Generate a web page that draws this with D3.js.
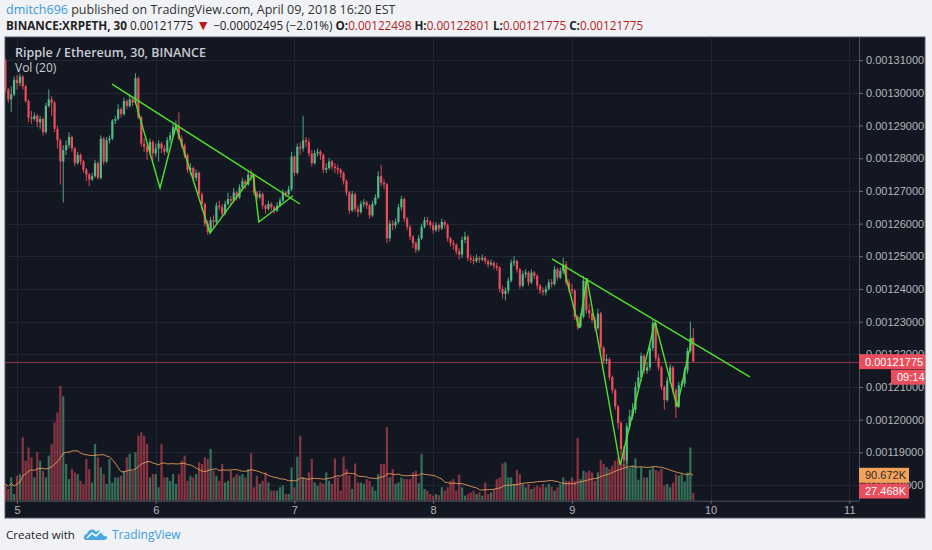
<!DOCTYPE html>
<html>
<head>
<meta charset="utf-8">
<script src="https://cdn.jsdelivr.net/npm/d3@7"></script>
<style>
  body { margin: 0; background: #f0f2f5; }
  svg { display: block; font-family: "Open Sans", sans-serif; }
</style>
</head>
<body>
<svg width="932" height="550"></svg>
<script>
// prices in units of 1e-5 ETH, volume in thousands
// every candle is [close, high, low, volume]; open = previous close
const FIRST_OPEN = 131.0;
const FIRST_BAR = -4; // bars counted from Apr 5 00:00, 30 min each

const beforeDay5 = [
  [130.10,131.05,130.00,60],[129.80,130.15,129.70,42],[129.95,130.20,129.42,83],[130.40,130.50,129.90,24]
];
const day5 = [
  [130.30,130.55,130.10,89],[130.50,130.60,130.20,95],[130.20,130.55,130.10,226],[129.75,130.25,129.70,143],
  [129.25,129.80,129.10,190],[129.20,129.45,129.05,155],[129.30,129.40,129.15,83],[129.10,129.35,128.95,173],
  [129.20,129.30,128.90,143],[128.80,129.25,128.70,107],[129.60,129.70,128.75,83],[129.80,130.10,129.55,161],
  [129.70,129.90,129.30,202],[128.90,129.75,128.80,280],[128.55,129.00,128.30,315],[127.90,128.60,127.20,410],
  [128.25,128.40,126.65,373],[128.40,128.55,128.10,131],[128.65,128.80,128.30,77],[128.30,128.70,128.20,113],
  [127.85,128.35,127.75,101],[128.10,128.20,127.80,95],[127.90,128.15,127.80,71],[127.65,127.95,127.55,60],
  [127.50,127.70,127.30,149],[127.35,127.55,127.15,113],[127.45,127.55,127.30,65],[127.85,127.95,127.40,202],
  [127.40,127.90,127.35,155],[128.60,128.70,127.35,119],[127.90,128.65,127.80,95],[128.55,128.65,127.85,60],
  [128.60,128.70,128.45,149],[129.15,129.20,128.55,65],[129.20,129.30,129.05,83],[129.50,129.65,129.15,83],
  [129.35,129.55,129.25,89],[129.75,129.85,129.30,107],[129.60,129.80,129.50,155],[129.80,129.95,129.55,167],
  [129.70,129.90,129.60,107],[130.45,130.60,129.65,173],[129.25,130.50,129.20,232],[128.45,129.30,128.35,244],
  [128.35,128.60,128.20,232],[128.20,128.45,127.95,202],[128.50,128.60,128.10,83],[128.15,128.55,127.90,95]
];
const day6 = [
  [128.30,128.45,128.05,95],[128.45,128.55,127.90,48],[128.30,128.50,128.15,202],[128.20,128.40,128.10,83],
  [128.55,128.65,128.15,83],[128.70,128.80,128.45,71],[128.95,129.05,128.65,95],[129.00,129.15,128.85,60],
  [128.60,129.40,128.55,95],[128.40,128.70,128.30,143],[128.10,128.45,128.00,161],[127.65,128.15,127.55,71],
  [127.70,127.85,127.50,89],[127.40,127.75,127.30,83],[127.55,127.65,127.30,95],[126.90,127.60,126.80,137],
  [126.60,126.95,126.40,131],[126.00,126.65,125.90,155],[125.75,126.10,125.65,149],[126.10,126.20,125.70,185],
  [126.05,126.25,125.85,107],[126.55,126.65,126.00,89],[126.50,126.70,126.40,71],[126.30,126.60,126.20,131],
  [126.60,126.70,126.25,65],[126.75,126.95,126.55,71],[126.70,126.85,126.55,107],[126.95,127.10,126.65,83],
  [126.80,127.00,126.70,95],[127.10,127.20,126.75,89],[127.30,127.40,127.00,95],[127.20,127.35,127.05,83],
  [127.50,127.60,127.15,113],[127.45,127.65,127.30,169],[126.95,127.50,126.85,48],[126.80,127.00,126.70,89],
  [126.90,127.00,126.75,60],[126.55,126.95,126.45,71],[126.45,126.60,126.30,101],[126.60,126.70,126.40,65],
  [126.50,126.65,126.40,36],[126.40,126.55,126.30,36],[126.55,126.65,126.35,36],[126.70,126.80,126.50,48],
  [126.95,127.05,126.65,54],[126.90,127.00,126.80,24],[127.05,127.15,126.85,24],[128.05,128.20,127.00,119]
];
const day7 = [
  [127.55,128.10,127.45,48],[128.35,128.45,127.50,157],[128.30,128.50,128.10,232],[128.55,129.30,128.20,83],
  [128.50,128.65,128.35,77],[128.15,128.60,128.05,101],[127.85,128.25,127.75,149],[128.15,128.25,127.80,65],
  [128.20,128.30,128.05,54],[128.10,128.25,127.95,65],[127.65,128.15,127.55,60],[127.70,127.85,127.55,101],
  [127.90,128.00,127.65,71],[127.75,127.95,127.65,60],[127.70,127.85,127.55,151],[127.65,127.80,127.50,83],
  [127.55,127.70,127.40,36],[127.30,127.60,127.20,157],[126.95,127.35,126.85,113],[126.40,127.00,126.30,90],
  [126.90,127.00,126.35,42],[126.45,126.95,126.35,133],[126.35,126.55,126.20,65],[126.60,126.70,126.30,65],
  [126.65,126.75,126.50,60],[126.55,126.70,126.45,77],[126.25,126.60,126.15,71],[126.60,126.70,126.20,50],
  [126.80,126.90,126.55,36],[127.45,127.60,126.75,95],[127.25,127.80,127.15,131],[127.20,127.35,127.05,131],
  [125.55,127.25,125.40,262],[126.00,126.10,125.45,83],[125.95,126.10,125.80,113],[126.05,126.15,125.85,60],
  [126.50,126.60,126.00,65],[126.75,126.85,126.40,83],[126.15,126.80,126.05,77],[125.90,126.20,125.80,77],
  [125.60,125.95,125.50,77],[125.40,125.65,125.25,101],[125.20,125.45,125.10,107],[125.55,125.65,125.15,62],
  [125.90,126.00,125.50,167],[126.10,126.20,125.85,42],[126.05,126.20,125.95,36],[125.95,126.10,125.85,24]
];
const day8 = [
  [125.80,126.05,125.70,18],[125.95,126.05,125.75,24],[125.85,126.00,125.75,20],[126.05,126.15,125.80,48],
  [125.95,126.10,125.85,36],[125.55,126.00,125.45,48],[125.40,125.60,125.30,71],[125.35,125.50,125.20,77],
  [125.15,125.40,125.05,36],[125.05,125.25,124.90,93],[125.50,125.60,124.95,48],[125.60,125.75,125.40,18],
  [124.95,125.65,124.85,24],[124.90,125.05,124.80,30],[124.85,125.00,124.75,36],[124.95,125.05,124.80,24],
  [124.90,125.00,124.80,30],[124.95,125.05,124.85,18],[124.85,125.00,124.75,65],[124.75,124.90,124.65,24],
  [124.80,124.90,124.70,30],[124.70,124.85,124.60,40],[124.65,124.80,124.55,77],[124.00,124.70,123.90,83],
  [123.85,124.10,123.70,133],[123.95,124.05,123.65,137],[124.25,124.35,123.85,83],[124.80,124.90,124.20,83],
  [124.85,125.00,124.70,60],[124.60,124.90,124.50,110],[124.10,124.65,124.00,95],[124.45,124.55,124.05,60],
  [124.50,124.60,124.35,48],[124.20,124.55,124.10,60],[124.50,124.60,124.15,42],[124.40,124.55,124.30,48],
  [124.10,124.45,124.00,54],[123.95,124.15,123.85,48],[123.90,124.05,123.80,60],[124.00,124.10,123.80,48],
  [124.20,124.30,123.95,60],[124.15,124.30,124.05,50],[124.60,124.70,124.10,36],[124.35,124.65,124.25,48],
  [124.55,124.65,124.30,60],[124.75,124.95,124.45,83],[124.20,124.85,124.10,71],[124.00,124.30,123.90,70]
];
const day9 = [
  [123.95,124.15,123.85,83],[123.15,124.00,123.05,71],[122.85,123.20,122.75,224],[123.15,123.25,122.80,77],
  [124.25,124.40,123.10,107],[123.35,124.30,123.25,101],[123.25,123.55,123.10,107],[123.05,123.40,122.95,101],
  [122.80,123.15,122.70,71],[123.25,123.40,122.75,101],[122.20,123.30,122.05,145],[121.80,122.25,121.70,131],
  [121.85,122.00,121.70,120],[121.30,121.90,121.20,113],[120.90,121.35,120.80,125],[120.40,120.95,120.30,143],
  [119.90,120.45,119.70,155],[119.10,119.95,118.90,143],[118.75,119.20,118.55,131],[119.80,119.90,118.65,143],
  [120.10,120.30,119.70,117],[120.30,120.50,120.00,125],[121.00,121.15,120.20,151],[121.30,121.50,120.90,75],
  [121.95,122.05,121.20,120],[121.50,122.00,121.40,83],[121.60,121.75,121.40,83],[122.20,122.30,121.50,110],
  [122.95,123.05,122.10,120],[121.90,123.00,121.80,110],[121.60,122.00,121.50,105],[121.00,121.65,120.90,113],
  [120.60,121.05,120.30,54],[121.20,121.30,120.55,60],[121.60,121.70,121.10,48],[120.90,121.65,120.80,65],
  [120.40,120.95,120.05,95],[121.05,121.15,120.35,90],[121.10,121.20,120.95,95],[121.50,121.60,121.00,69],
  [122.10,122.20,121.40,101],[122.498,123.00,122.05,189.97],[121.775,122.801,121.775,27.468]
];

const dayLabels = ["5", "6", "7", "8", "9", "10", "11"];
const dayTicks = [0, 48, 96, 144, 192, 240, 288];
const priceTicks = [118, 119, 120, 121, 122, 123, 124, 125, 126, 127, 128, 129, 130, 131];

// hand-drawn annotations, points as [bar, price]
const trendLines = [
  [[32.9, 130.27], [97.9, 126.60]],
  [[185.1, 124.92], [253.6, 121.31]]
];
const zigzags = [
  [[40.8, 129.78], [49.5, 127.09], [55.0, 128.99], [66.8, 125.71], [81.7, 127.49], [83.7, 126.05], [95.5, 126.85]],
  [[188.9, 124.73], [194.5, 122.80], [197.2, 124.33], [208.7, 118.61], [220.8, 122.99], [228.4, 120.39], [233.6, 122.50]]
];

const UP = "#53b987", DOWN = "#eb4d5c";

const rows = [].concat(beforeDay5, day5, day6, day7, day8, day9);
const candles = rows.map((r, i) => ({
  k: FIRST_BAR + i,
  o: i ? rows[i - 1][0] : FIRST_OPEN,
  c: r[0], h: r[1], l: r[2], v: r[3]
}));
candles.forEach((d, i) => {
  const win = candles.slice(Math.max(0, i - 19), i + 1);
  d.ma = d3.mean(win, (w) => w.v);
});
const last = candles[candles.length - 1];

const svg = d3.select("svg");
const plot = { left: 5, right: 859, top: 37, bottom: 500.7 };

const x = d3.scaleLinear().domain([-4.15, 291.35]).range([plot.left, plot.right]);
const y = d3.scaleLinear().domain([117.52, 131.71]).range([plot.bottom, plot.top]);
const yv = d3.scaleLinear().domain([0, 1656]).range([plot.bottom, plot.top]);
const fmtP = (v) => (v * 1e-5).toFixed(8);

// header
const h1 = svg.append("text").attr("x", 6).attr("y", 14).attr("font-size", 12.5);
h1.append("tspan").attr("fill", "#3a9ad9").text("dmitch696");
h1.append("tspan").attr("fill", "#333").text(" published on TradingView.com, April 09, 2018 16:20 EST");

const h2 = svg.append("text").attr("x", 6).attr("y", 30).attr("font-size", 11.7).attr("fill", "#222");
h2.append("tspan").attr("font-weight", "bold").text("BINANCE:XRPETH, 30");
h2.append("tspan").text(" " + fmtP(last.c) + " ");
h2.append("tspan").attr("fill", "#b71c1c").attr("font-size", 14).text("▼");
h2.append("tspan").text(" −0.00002495 (−2.01%) ");
[["O:", last.o], ["H:", last.h], ["L:", last.l], ["C:", last.c]].forEach(([lab, v], i) => {
  h2.append("tspan").attr("font-weight", "bold").text((i ? " " : "") + lab);
  h2.append("tspan").attr("fill", "#b71c1c").text(fmtP(v));
});

// chart frame
svg.append("rect").attr("x", 5).attr("y", 37).attr("width", 920).attr("height", 481)
  .attr("fill", "#131722").attr("stroke", "#555b66").attr("stroke-width", 1);

svg.append("clipPath").attr("id", "plotclip").append("rect")
  .attr("x", plot.left).attr("y", plot.top)
  .attr("width", plot.right - plot.left).attr("height", plot.bottom - plot.top);

const grid = svg.append("g").attr("stroke", "#232734").attr("stroke-width", 1);
grid.selectAll("line.h").data(priceTicks).join("line").attr("class", "h")
  .attr("x1", plot.left).attr("x2", plot.right)
  .attr("y1", (d) => Math.round(y(d)) + 0.5).attr("y2", (d) => Math.round(y(d)) + 0.5);
grid.selectAll("line.v").data(dayTicks).join("line").attr("class", "v")
  .attr("x1", (d) => Math.round(x(d)) + 0.5).attr("x2", (d) => Math.round(x(d)) + 0.5)
  .attr("y1", plot.top).attr("y2", plot.bottom);

const g = svg.append("g").attr("clip-path", "url(#plotclip)");

// volume
g.append("g").selectAll("rect").data(candles).join("rect")
  .attr("x", (d) => x(d.k) - 1.1).attr("width", 2.2)
  .attr("y", (d) => yv(d.v)).attr("height", (d) => plot.bottom - yv(d.v))
  .attr("fill", (d) => (d.c >= d.o ? UP : DOWN)).attr("fill-opacity", 0.55);

g.append("path").datum(candles)
  .attr("d", d3.line().x((d) => x(d.k)).y((d) => yv(d.ma)))
  .attr("fill", "none").attr("stroke", "#f0a35e").attr("stroke-width", 1).attr("opacity", 0.85);

// current price line
g.append("line").attr("x1", plot.left).attr("x2", plot.right)
  .attr("y1", Math.round(y(last.c)) + 0.5).attr("y2", Math.round(y(last.c)) + 0.5)
  .attr("stroke", DOWN).attr("stroke-opacity", 0.55);

// candles
const cg = g.append("g").selectAll("g").data(candles).join("g")
  .attr("fill", (d) => (d.c >= d.o ? UP : DOWN))
  .attr("stroke", (d) => (d.c >= d.o ? UP : DOWN));
cg.append("line")
  .attr("x1", (d) => x(d.k)).attr("x2", (d) => x(d.k))
  .attr("y1", (d) => y(d.h)).attr("y2", (d) => y(d.l)).attr("stroke-width", 0.9);
cg.append("rect").attr("stroke", "none")
  .attr("x", (d) => x(d.k) - 1.1).attr("width", 2.2)
  .attr("y", (d) => y(Math.max(d.o, d.c)))
  .attr("height", (d) => Math.max(1, Math.abs(y(d.o) - y(d.c))));

// drawings
const dl = d3.line().x((p) => x(p[0])).y((p) => y(p[1]));
g.append("g").selectAll("path").data(trendLines.concat(zigzags)).join("path")
  .attr("d", dl).attr("fill", "none").attr("stroke", "#4fe12c").attr("stroke-width", 1.4);

// price scale
svg.append("line").attr("x1", plot.right + 0.5).attr("x2", plot.right + 0.5)
  .attr("y1", plot.top).attr("y2", plot.bottom).attr("stroke", "#4c525e");
svg.append("line").attr("x1", plot.left).attr("x2", plot.right)
  .attr("y1", plot.bottom + 0.5).attr("y2", plot.bottom + 0.5).attr("stroke", "#4c525e");

const ay = svg.append("g").attr("transform", `translate(${plot.right},0)`)
  .call(d3.axisRight(y).tickValues(priceTicks).tickFormat(fmtP).tickSize(4).tickPadding(3));
ay.select(".domain").remove();
ay.selectAll("line").attr("stroke", "#6a6f7b");
ay.selectAll("text").attr("fill", "#b2b5be").attr("font-size", 11)
  .attr("font-family", "Liberation Sans, Arial, sans-serif");

const ax = svg.append("g").attr("transform", `translate(0,${plot.bottom})`)
  .call(d3.axisBottom(x).tickValues(dayTicks).tickFormat((d, i) => dayLabels[i]).tickSize(3).tickPadding(3));
ax.select(".domain").remove();
ax.selectAll("line").attr("stroke", "#6a6f7b");
ax.selectAll("text").attr("fill", "#b2b5be").attr("font-size", 11)
  .attr("font-family", "Liberation Sans, Arial, sans-serif");

// scale badges
function badge(x0, yc, w, fill, color, label) {
  svg.append("rect").attr("x", x0).attr("y", yc - 7.5).attr("width", w).attr("height", 15).attr("fill", fill);
  svg.append("text").attr("x", x0 + 6).attr("y", yc + 4).attr("fill", color).attr("font-size", 11)
    .attr("font-family", "Liberation Sans, Arial, sans-serif").text(label);
}
badge(plot.right, y(last.c), 66, DOWN, "#fff", fmtP(last.c));
badge(891, y(last.c) + 15.5, 34, DOWN, "#fff", "09:14");
badge(plot.right, yv(last.ma), 50, "#f4a259", "#2a2a2a", last.ma.toFixed(3) + "K");
badge(plot.right, yv(last.v) - 2, 50, DOWN, "#fff", last.v.toFixed(3) + "K");

// titles inside the pane
svg.append("text").attr("x", 15).attr("y", 57).attr("fill", "#c9ccd4").attr("font-size", 12.5)
  .attr("font-weight", 600).text("Ripple / Ethereum, 30, BINANCE");
svg.append("text").attr("x", 15).attr("y", 72).attr("fill", "#c9ccd4").attr("font-size", 12)
  .text("Vol (20)");

// footer
svg.append("text").attr("x", 6).attr("y", 539).attr("fill", "#222").attr("font-size", 11.6)
  .text("Created with");
const logo = svg.append("g").attr("transform", "translate(84,527)");
logo.append("path")
  .attr("d", "M2,13 C-1,13 -1,7 3,7 C4,2 10,1 12,5 C15,2 21,4 20,8 C24,8 24,13 20,13 Z")
  .attr("fill", "#4aa8e0");
logo.append("path").attr("d", "M3,11 L8,6 L12,9 L17,4 L21,9")
  .attr("fill", "none").attr("stroke", "#fff").attr("stroke-width", 1.6);
svg.append("text").attr("x", 112).attr("y", 539).attr("fill", "#3ba0dd").attr("font-size", 12)
  .text("TradingView");
</script>
</body>
</html>
